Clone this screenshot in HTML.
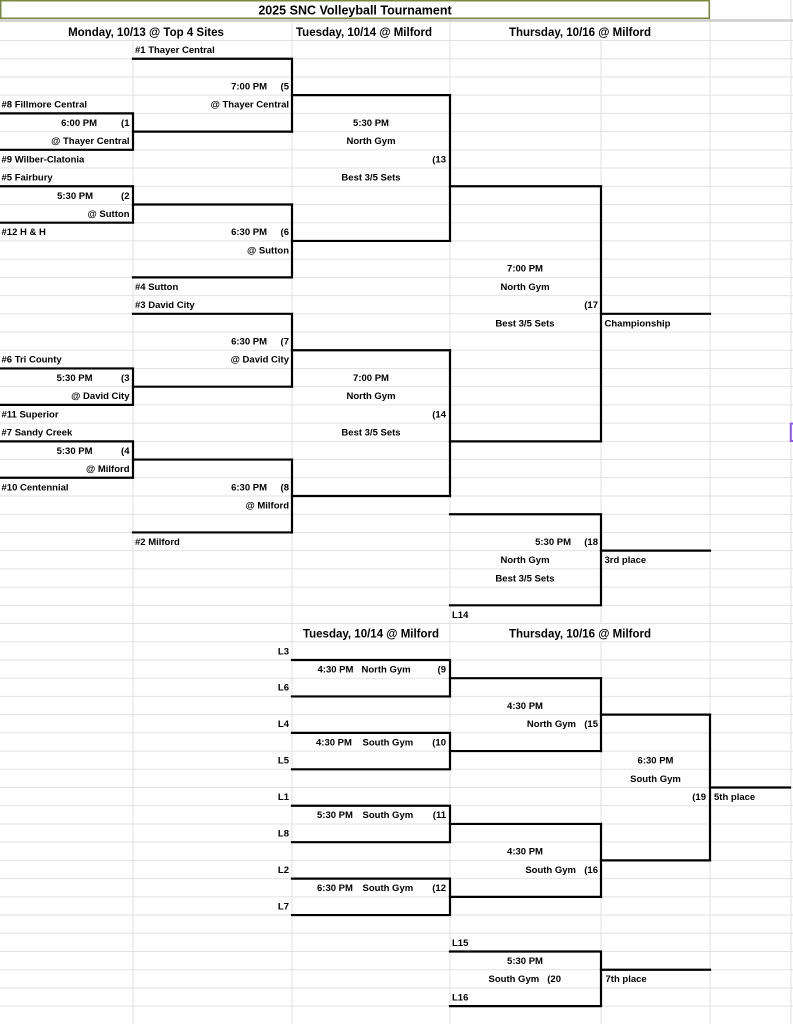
<!DOCTYPE html>
<html><head><meta charset="utf-8"><style>
html,body{margin:0;padding:0;background:#fff;width:793px;height:1024px;overflow:hidden}
svg{display:block}
text{font-family:"Liberation Sans",Arial,sans-serif;font-weight:bold;font-size:9.5px;fill:#000}
.h{font-size:11.5px}
.t{font-size:12.5px}
.e{text-anchor:end}
.m{text-anchor:middle}
</style></head><body>
<svg width="793" height="1024" viewBox="0 0 793 1024" xmlns="http://www.w3.org/2000/svg">
<rect x="0" y="0" width="793" height="1024" fill="#fff"/>
<!-- grid horizontal -->
<g stroke="#e2e2e2" stroke-width="1">
<line x1="0" y1="40.5" x2="793" y2="40.5"/>
<line x1="0" y1="58.72" x2="793" y2="58.72"/>
<line x1="0" y1="76.94" x2="793" y2="76.94"/>
<line x1="0" y1="95.16" x2="793" y2="95.16"/>
<line x1="0" y1="113.38" x2="793" y2="113.38"/>
<line x1="0" y1="131.6" x2="793" y2="131.6"/>
<line x1="0" y1="149.82" x2="793" y2="149.82"/>
<line x1="0" y1="168.04" x2="793" y2="168.04"/>
<line x1="0" y1="186.26" x2="793" y2="186.26"/>
<line x1="0" y1="204.48" x2="793" y2="204.48"/>
<line x1="0" y1="222.7" x2="793" y2="222.7"/>
<line x1="0" y1="240.92" x2="793" y2="240.92"/>
<line x1="0" y1="259.14" x2="793" y2="259.14"/>
<line x1="0" y1="277.36" x2="793" y2="277.36"/>
<line x1="0" y1="295.58" x2="793" y2="295.58"/>
<line x1="0" y1="313.8" x2="793" y2="313.8"/>
<line x1="0" y1="332.02" x2="793" y2="332.02"/>
<line x1="0" y1="350.24" x2="793" y2="350.24"/>
<line x1="0" y1="368.46" x2="793" y2="368.46"/>
<line x1="0" y1="386.68" x2="793" y2="386.68"/>
<line x1="0" y1="404.9" x2="793" y2="404.9"/>
<line x1="0" y1="423.12" x2="793" y2="423.12"/>
<line x1="0" y1="441.34" x2="793" y2="441.34"/>
<line x1="0" y1="459.56" x2="793" y2="459.56"/>
<line x1="0" y1="477.78" x2="793" y2="477.78"/>
<line x1="0" y1="496" x2="793" y2="496"/>
<line x1="0" y1="514.22" x2="793" y2="514.22"/>
<line x1="0" y1="532.44" x2="793" y2="532.44"/>
<line x1="0" y1="550.66" x2="793" y2="550.66"/>
<line x1="0" y1="568.88" x2="793" y2="568.88"/>
<line x1="0" y1="587.1" x2="793" y2="587.1"/>
<line x1="0" y1="605.32" x2="793" y2="605.32"/>
<line x1="0" y1="623.54" x2="793" y2="623.54"/>
<line x1="0" y1="641.76" x2="793" y2="641.76"/>
<line x1="0" y1="659.98" x2="793" y2="659.98"/>
<line x1="0" y1="678.2" x2="793" y2="678.2"/>
<line x1="0" y1="696.42" x2="793" y2="696.42"/>
<line x1="0" y1="714.64" x2="793" y2="714.64"/>
<line x1="0" y1="732.86" x2="793" y2="732.86"/>
<line x1="0" y1="751.08" x2="793" y2="751.08"/>
<line x1="0" y1="769.3" x2="793" y2="769.3"/>
<line x1="0" y1="787.52" x2="793" y2="787.52"/>
<line x1="0" y1="805.74" x2="793" y2="805.74"/>
<line x1="0" y1="823.96" x2="793" y2="823.96"/>
<line x1="0" y1="842.18" x2="793" y2="842.18"/>
<line x1="0" y1="860.4" x2="793" y2="860.4"/>
<line x1="0" y1="878.62" x2="793" y2="878.62"/>
<line x1="0" y1="896.84" x2="793" y2="896.84"/>
<line x1="0" y1="915.06" x2="793" y2="915.06"/>
<line x1="0" y1="933.28" x2="793" y2="933.28"/>
<line x1="0" y1="951.5" x2="793" y2="951.5"/>
<line x1="0" y1="969.72" x2="793" y2="969.72"/>
<line x1="0" y1="987.94" x2="793" y2="987.94"/>
<line x1="0" y1="1006.16" x2="793" y2="1006.16"/>
<!-- grid vertical -->
<line x1="133" y1="40.5" x2="133" y2="1024"/>
<line x1="292" y1="21" x2="292" y2="1024"/>
<line x1="450" y1="21" x2="450" y2="1024"/>
<line x1="601" y1="40.5" x2="601" y2="623.54"/>
<line x1="601" y1="641.76" x2="601" y2="1024"/>
<line x1="710" y1="0" x2="710" y2="1024"/>
<line x1="791" y1="0" x2="791" y2="1024"/>
</g>
<!-- title -->
<rect x="0" y="0" width="710" height="19" fill="#fff"/>
<rect x="0.75" y="0.75" width="708.5" height="17.5" fill="none" stroke="#77883f" stroke-width="1.5"/>
<rect x="0" y="19.3" width="793" height="2.4" fill="#cbcbcb"/>
<text class="t m" x="355" y="14.6">2025 SNC Volleyball Tournament</text>
<!-- headers -->
<text class="h m" x="146" y="36">Monday, 10/13 @ Top 4 Sites</text>
<text class="h" x="296" y="36">Tuesday, 10/14 @ Milford</text>
<text class="h m" x="580" y="36">Thursday, 10/16 @ Milford</text>
<text class="h m" x="371" y="637.3">Tuesday, 10/14 @ Milford</text>
<text class="h m" x="580" y="637.3">Thursday, 10/16 @ Milford</text>

<!-- bracket lines -->
<g stroke="#000" stroke-width="2.2" fill="none" stroke-linecap="square" stroke-linejoin="miter">
<polyline points="0,113.38 133,113.38 133,149.82 0,149.82"/>
<line x1="133" y1="131.6" x2="292" y2="131.6"/>
<polyline points="133,58.72 292,58.72 292,131.6"/>
<line x1="292" y1="95.16" x2="450" y2="95.16"/>
<polyline points="0,186.26 133,186.26 133,222.7 0,222.7"/>
<line x1="133" y1="204.48" x2="292" y2="204.48"/>
<polyline points="292,204.48 292,277.36 133,277.36"/>
<line x1="292" y1="240.92" x2="450" y2="240.92"/>
<line x1="450" y1="95.16" x2="450" y2="240.92"/>
<line x1="450" y1="186.26" x2="601" y2="186.26"/>
<polyline points="133,313.8 292,313.8 292,386.68"/>
<line x1="292" y1="350.24" x2="450" y2="350.24"/>
<polyline points="0,368.46 133,368.46 133,404.9 0,404.9"/>
<line x1="133" y1="386.68" x2="292" y2="386.68"/>
<polyline points="0,441.34 133,441.34 133,477.78 0,477.78"/>
<line x1="133" y1="459.56" x2="292" y2="459.56"/>
<polyline points="292,459.56 292,532.44 133,532.44"/>
<line x1="292" y1="496" x2="450" y2="496"/>
<line x1="450" y1="350.24" x2="450" y2="496"/>
<line x1="450" y1="441.34" x2="601" y2="441.34"/>
<line x1="601" y1="186.26" x2="601" y2="441.34"/>
<line x1="601" y1="313.8" x2="710" y2="313.8"/>
<polyline points="450,514.22 601,514.22 601,605.32 450,605.32"/>
<line x1="601" y1="550.66" x2="710" y2="550.66"/>

<polyline points="292,659.98 450,659.98 450,696.42 292,696.42"/>
<line x1="450" y1="678.2" x2="601" y2="678.2"/>
<polyline points="292,732.86 450,732.86 450,769.3 292,769.3"/>
<line x1="450" y1="751.08" x2="601" y2="751.08"/>
<line x1="601" y1="678.2" x2="601" y2="751.08"/>
<line x1="601" y1="714.64" x2="710" y2="714.64"/>
<polyline points="292,805.74 450,805.74 450,842.18 292,842.18"/>
<line x1="450" y1="823.96" x2="601" y2="823.96"/>
<polyline points="292,878.62 450,878.62 450,915.06 292,915.06"/>
<line x1="450" y1="896.84" x2="601" y2="896.84"/>
<line x1="601" y1="823.96" x2="601" y2="896.84"/>
<line x1="601" y1="860.4" x2="710" y2="860.4"/>
<line x1="710" y1="714.64" x2="710" y2="860.4"/>
<line x1="710" y1="787.52" x2="790" y2="787.52"/>
<polyline points="450,951.5 601,951.5 601,1006.16 450,1006.16"/>
<line x1="601" y1="969.72" x2="710" y2="969.72"/>
</g>

<!-- selection marker -->
<path d="M793,423.6 H790.8 V441 H793" fill="none" stroke="#8a55f5" stroke-width="2"/>

<!-- texts upper -->
<text x="135" y="53">#1 Thayer Central</text>
<text class="e" x="267" y="89.44">7:00 PM</text>
<text class="e" x="289" y="89.44">(5</text>
<text x="1.5" y="107.66">#8 Fillmore Central</text>
<text class="e" x="289" y="107.66">@ Thayer Central</text>
<text class="e" x="97" y="125.88">6:00 PM</text>
<text class="e" x="129.5" y="125.88">(1</text>
<text class="m" x="371" y="125.88">5:30 PM</text>
<text class="e" x="129.5" y="144.1">@ Thayer Central</text>
<text class="m" x="371" y="144.1">North Gym</text>
<text x="1.5" y="162.32">#9 Wilber-Clatonia</text>
<text class="e" x="446" y="162.32">(13</text>
<text x="1.5" y="180.54">#5 Fairbury</text>
<text class="m" x="371" y="180.54">Best 3/5 Sets</text>
<text class="e" x="93" y="198.76">5:30 PM</text>
<text class="e" x="129.5" y="198.76">(2</text>
<text class="e" x="129.5" y="216.98">@ Sutton</text>
<text x="1.5" y="235.2">#12 H &amp; H</text>
<text class="e" x="267" y="235.2">6:30 PM</text>
<text class="e" x="289" y="235.2">(6</text>
<text class="e" x="289" y="253.42">@ Sutton</text>
<text class="m" x="525" y="271.64">7:00 PM</text>
<text x="135" y="289.86">#4 Sutton</text>
<text class="m" x="525" y="289.86">North Gym</text>
<text x="135" y="308.08">#3 David City</text>
<text class="e" x="598" y="308.08">(17</text>
<text class="m" x="525" y="326.3">Best 3/5 Sets</text>
<text x="604.5" y="326.3">Championship</text>
<text class="e" x="267" y="344.52">6:30 PM</text>
<text class="e" x="289" y="344.52">(7</text>
<text x="1.5" y="362.74">#6 Tri County</text>
<text class="e" x="289" y="362.74">@ David City</text>
<text class="e" x="92.5" y="380.96">5:30 PM</text>
<text class="e" x="129.5" y="380.96">(3</text>
<text class="m" x="371" y="380.96">7:00 PM</text>
<text class="e" x="129.5" y="399.18">@ David City</text>
<text class="m" x="371" y="399.18">North Gym</text>
<text x="1.5" y="417.4">#11 Superior</text>
<text class="e" x="446" y="417.4">(14</text>
<text x="1.5" y="435.62">#7 Sandy Creek</text>
<text class="m" x="371" y="435.62">Best 3/5 Sets</text>
<text class="e" x="92.5" y="453.84">5:30 PM</text>
<text class="e" x="129.5" y="453.84">(4</text>
<text class="e" x="129.5" y="472.06">@ Milford</text>
<text x="1.5" y="490.28">#10 Centennial</text>
<text class="e" x="267" y="490.28">6:30 PM</text>
<text class="e" x="289" y="490.28">(8</text>
<text class="e" x="289" y="508.5">@ Milford</text>
<text x="135" y="544.94">#2 Milford</text>
<text class="e" x="571" y="544.94">5:30 PM</text>
<text class="e" x="598" y="544.94">(18</text>
<text class="m" x="525" y="563.16">North Gym</text>
<text x="604.5" y="563.16">3rd place</text>
<text class="m" x="525" y="581.38">Best 3/5 Sets</text>
<text x="452" y="617.82">L14</text>

<!-- texts lower -->
<text class="e" x="289" y="654.26">L3</text>
<text x="317.5" y="672.48">4:30 PM</text>
<text x="361.5" y="672.48">North Gym</text>
<text class="e" x="446" y="672.48">(9</text>
<text class="e" x="289" y="690.7">L6</text>
<text class="m" x="525" y="708.92">4:30 PM</text>
<text class="e" x="289" y="727.14">L4</text>
<text class="e" x="576" y="727.14">North Gym</text>
<text class="e" x="598" y="727.14">(15</text>
<text x="316" y="745.36">4:30 PM</text>
<text x="362.5" y="745.36">South Gym</text>
<text class="e" x="446" y="745.36">(10</text>
<text class="e" x="289" y="763.58">L5</text>
<text class="m" x="655.5" y="763.58">6:30 PM</text>
<text class="m" x="655.5" y="781.8">South Gym</text>
<text class="e" x="289" y="800.02">L1</text>
<text class="e" x="706" y="800.02">(19</text>
<text x="714" y="800.02">5th place</text>
<text x="317" y="818.24">5:30 PM</text>
<text x="362.5" y="818.24">South Gym</text>
<text class="e" x="446" y="818.24">(11</text>
<text class="e" x="289" y="836.46">L8</text>
<text class="m" x="525" y="854.68">4:30 PM</text>
<text class="e" x="289" y="872.9">L2</text>
<text class="e" x="576" y="872.9">South Gym</text>
<text class="e" x="598" y="872.9">(16</text>
<text x="317" y="891.12">6:30 PM</text>
<text x="362.5" y="891.12">South Gym</text>
<text class="e" x="446" y="891.12">(12</text>
<text class="e" x="289" y="909.34">L7</text>
<text x="452" y="945.78">L15</text>
<text class="m" x="525" y="964">5:30 PM</text>
<text x="488.5" y="982.22">South Gym</text>
<text class="e" x="561" y="982.22">(20</text>
<text x="605.5" y="982.22">7th place</text>
<text x="452" y="1000.44">L16</text>
</svg>
</body></html>
